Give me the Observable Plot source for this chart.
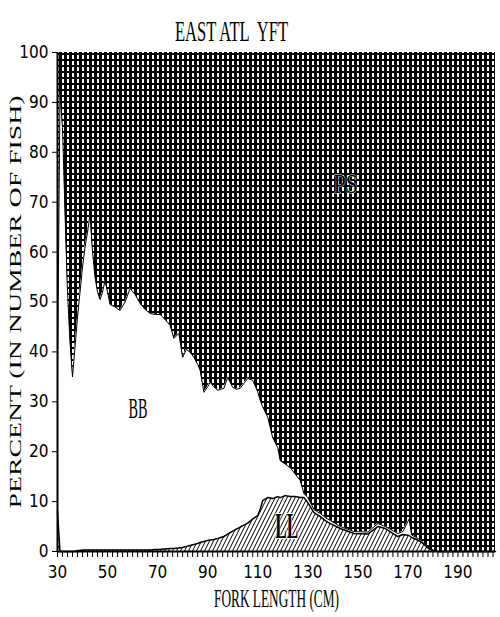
<!DOCTYPE html>
<html><head><meta charset="utf-8">
<script src="https://cdn.jsdelivr.net/npm/d3@7"></script>
<script src="https://cdn.jsdelivr.net/npm/@observablehq/plot@0.6"></script>
<style>
html,body{margin:0;padding:0;background:#fff;}
</style></head><body><div id="chart"></div>
<script>
// Fork length (cm)
const lengthCm = [30,31,32,33,34,35,36,37,38,39,40,41,42,43,44,45,46,47,48,49,50,51,53,55,57,59,61,63,65,67,69,71,73,75,76.5,78.5,80,81.5,83,84.5,86,87,88.5,90,91,92.5,94,96.5,98,100,101.5,103,106,108,110,111,112,114,116,118,119,121,123,125,127,128.5,130,132.5,135,137,139,143,148.5,154,158,161,166,168,170.5,171.5,173,175,178,180,182,205];
// Longline share (%)
const llPct = [8,0,0,0,0,0,0,0,0.2,0.2,0.3,0.3,0.3,0.3,0.3,0.3,0.3,0.3,0.3,0.3,0.3,0.3,0.3,0.3,0.3,0.3,0.3,0.3,0.3,0.3,0.4,0.4,0.5,0.6,0.6,0.7,0.8,1.0,1.2,1.4,1.6,1.8,2.0,2.2,2.3,2.4,2.6,3.0,3.5,4.1,4.5,4.9,5.7,6.5,7.2,8.5,10.2,10.8,10.6,11.0,10.8,11.2,11.0,11.0,10.8,10.8,9.8,7.8,7.0,6.2,5.6,4.6,3.6,3.5,5.0,4.6,3.0,3.4,3.2,2.8,2.5,2.0,0.7,0.2,0,0];
// Baitboat share (%)
const bbPct = [27,92,85,68,52,42,35,41,46.8,51.8,56.7,60.7,63.7,67.2,59.7,54.7,51.7,50.2,51.7,54.0,51.7,49.2,48.7,48.0,49.7,52.4,51.2,49.4,48.2,47.4,47.1,47.1,46.0,44.7,42.1,43.0,38.1,39.5,38.7,37.5,35.9,34.5,29.9,30.8,31.6,30.6,29.7,29.7,31.4,28.8,28.0,27.8,29.0,27.8,24.8,21.8,18.8,16.1,12.2,9.8,7.4,6.3,5.8,4.5,3.4,0.8,1.0,0.6,0.6,0.6,0.6,0.4,0.4,0.4,0.6,0.4,0.6,0.6,3.3,0.5,0.4,0.3,0.2,0.1,0,0];
// Purse seine share = remainder to 100%

const xTicks = d3.range(30, 205, 2);
const xTickLabels = [30,50,70,90,110,130,150,170,190];
const yTicks = d3.range(0, 101, 10);

const areaLabels = ["BB","LL","PS"];
const areaLabelX = [62.2, 121.6, 145.2];
const areaLabelY = [28.7, 5.0, 73.7];

const titleText = "EAST ATL  YFT";
const xTitle = "FORK LENGTH (CM)";
const yTitle = "PERCENT (IN NUMBER OF FISH)";

const rows = lengthCm.map((x, i) => ({x, ll: llPct[i], bbTop: llPct[i] + bbPct[i]}));
const labels = areaLabels.map((t, i) => ({t, x: areaLabelX[i], y: areaLabelY[i]}));

const serif = "'Liberation Serif', 'DejaVu Serif', serif";

const plot = Plot.plot({
  width: 500, height: 617,
  marginTop: 52, marginBottom: 66, marginLeft: 57, marginRight: 5,
  x: {domain: [30, 205]},
  y: {domain: [0, 100]},
  style: {fontFamily: "'Liberation Sans Narrow', 'DejaVu Sans Condensed', sans-serif", fontSize: "17px", color: "black", background: "white", overflow: "visible"},
  marks: [
    Plot.areaY(rows, {x: "x", y1: "bbTop", y2: 100, fill: "url(#psGrid)"}),
    Plot.areaY(rows, {x: "x", y1: "ll", y2: "bbTop", fill: "white"}),
    Plot.areaY(rows, {x: "x", y1: 0, y2: "ll", fill: "url(#llHatch)"}),
    Plot.lineY(rows, {x: "x", y: "bbTop", stroke: "black", strokeWidth: 1}),
    Plot.lineY(rows, {x: "x", y: "ll", stroke: "black", strokeWidth: 1.5}),
    Plot.ruleX([30], {stroke: "black", strokeWidth: 2}),
    Plot.ruleY([0], {stroke: "black", strokeWidth: 2}),
    Plot.ruleX(xTicks, {x: d => d, y1: 0, y2: 0, insetBottom: -6, stroke: "black", strokeWidth: 1}),
    Plot.axisX({ticks: xTickLabels, tickSize: 0, tickPadding: 14, label: null}),
    Plot.axisY({ticks: yTicks, tickSize: 5, tickPadding: 4, label: null}),
    Plot.text(labels.filter(d => d.t === "BB"), {x: "x", y: "y", text: "t", fontSize: 30, fontFamily: serif, fill: "black"}),
    Plot.text(labels.filter(d => d.t === "LL"), {x: "x", y: "y", text: "t", fontSize: 36, fontWeight: "bold", fontFamily: serif, fill: "black", stroke: "white", strokeWidth: 2}),
    Plot.text(labels.filter(d => d.t === "PS"), {x: "x", y: "y", text: "t", fontSize: 28, fontFamily: serif, fill: "black", stroke: "white", strokeWidth: 0.8}),
    Plot.text([titleText], {text: d => d, frameAnchor: "top", dx: -45, dy: -33, fontSize: 30, fontFamily: serif}),
    Plot.text([xTitle], {text: d => d, frameAnchor: "bottom", dy: 55, fontSize: 25, fontFamily: serif}),
    Plot.text([yTitle], {text: d => d, frameAnchor: "left", textAnchor: "middle", dx: -42, rotate: -90, fontSize: 17, fontFamily: serif})
  ]
});

const svg = d3.select(plot);
const defs = svg.insert("defs", ":first-child");
const ps = defs.append("pattern").attr("id", "psGrid").attr("patternUnits", "userSpaceOnUse").attr("width", 5).attr("height", 6);
ps.append("rect").attr("width", 5).attr("height", 6).attr("fill", "black");
ps.append("rect").attr("x", 2).attr("y", 1).attr("width", 2).attr("height", 4).attr("fill", "white");
const ll = defs.append("pattern").attr("id", "llHatch").attr("patternUnits", "userSpaceOnUse").attr("width", 4).attr("height", 8);
ll.append("rect").attr("width", 4).attr("height", 8).attr("fill", "white");
[-4, 0, 4].forEach(k => {
  ll.append("line").attr("x1", -1 + k).attr("y1", 10).attr("x2", 5 + k).attr("y2", -2).attr("stroke", "black").attr("stroke-width", 1);
});

const fit = {};
fit[titleText] = [113, "spacingAndGlyphs"];
fit[xTitle] = [125, "spacingAndGlyphs"];
fit[yTitle] = [413, "spacingAndGlyphs"];
fit["BB"] = [19, "spacingAndGlyphs"];
fit["LL"] = [23, "spacingAndGlyphs"];
fit["PS"] = [24, "spacingAndGlyphs"];
svg.selectAll("text").each(function() {
  const t = this.textContent;
  if (fit[t]) {
    d3.select(this).attr("textLength", fit[t][0]).attr("lengthAdjust", fit[t][1]);
  }
});

document.getElementById("chart").appendChild(plot);
</script>
</body></html>
